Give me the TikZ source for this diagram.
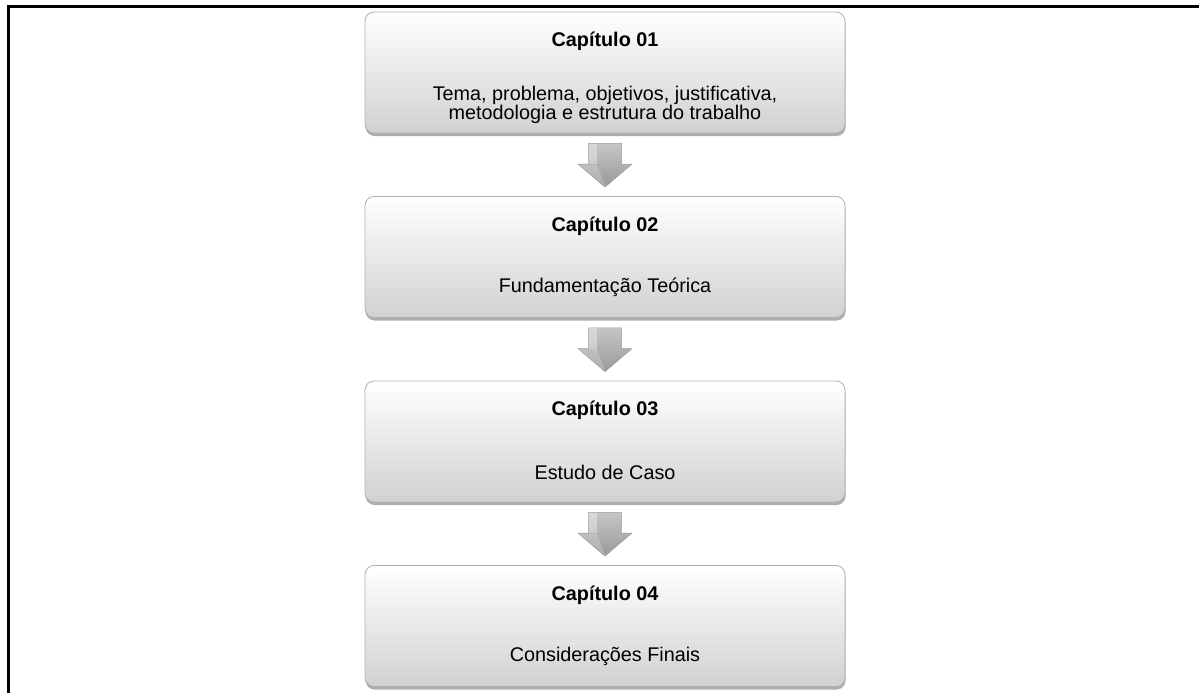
\documentclass[tikz,border=0pt]{standalone}
\usepackage{fontspec}
\setmainfont{Liberation Sans}
\usetikzlibrary{calc,shadows}

\begin{document}
\begin{tikzpicture}[x=1pt,y=-1pt,
  chapbox/.style={rounded corners=9pt, minimum width=480pt, minimum height=121pt,
    inner sep=0pt, top color=white, bottom color=gray!36, draw=gray!62, line width=0.8pt,
    drop shadow={shadow xshift=0.6pt, shadow yshift=-3pt, opacity=0.45, fill=black!70}},
  chaptitle/.style={font=\fontsize{19.8}{19}\selectfont\bfseries, inner sep=0pt},
  chaptext/.style={font=\fontsize{19.8}{19}\selectfont, align=center, inner sep=0pt},
  frameline/.style={line width=3pt, black, line join=miter},
  downarrow/.style={top color=gray!45, bottom color=gray!80, draw=gray!75, line width=0.5pt, line join=round},
  arrowshine/.style={fill=white, opacity=0.35}
]
\useasboundingbox (0,0) rectangle (1199,693);

% page frame: top and left rules
\draw[frameline] (8,693) -- (8,7) -- (1199,7);

% chapter boxes
\node[chapbox] (b1) at (605,72.5) {};
\node[chapbox] (b2) at (605,257) {};
\node[chapbox] (b3) at (605,441.5) {};
\node[chapbox] (b4) at (605,626) {};

% titles and descriptions
\node[chaptitle] (t1) at ($(b1.north)+(0,30)$) {Capítulo 01};
\node[chaptext]  (d1) at ($(b1.north)+(0,93.5)$) {Tema, problema, objetivos, justificativa,\\metodologia e estrutura do trabalho};
\node[chaptitle] (t2) at ($(b2.north)+(0,30)$) {Capítulo 02};
\node[chaptext]  (d2) at ($(b2.north)+(0,91.5)$) {Fundamentação Teórica};
\node[chaptitle] (t3) at ($(b3.north)+(0,30)$) {Capítulo 03};
\node[chaptext]  (d3) at ($(b3.north)+(0,91.5)$) {Estudo de Caso};
\node[chaptitle] (t4) at ($(b4.north)+(0,30)$) {Capítulo 04};
\node[chaptext]  (d4) at ($(b4.north)+(0,91.5)$) {Considerações Finais};

% block arrows between consecutive boxes
\foreach \from/\to in {b1/b2, b2/b3, b3/b4} {
  \coordinate (s) at ($(\from.south)+(0,10)$);
  \coordinate (t) at ($(\to.north)+(0,-9)$);
  \draw[downarrow] ($(s)+(-16.5,0)$) -- ($(s)+(16.5,0)$) -- ($(t)+(16.5,-23)$)
    -- ($(t)+(27,-23)$) -- (t) -- ($(t)+(-27,-23)$) -- ($(t)+(-16.5,-23)$) -- cycle;
  \fill[arrowshine] ($(s)+(-16,0.5)$) rectangle ($(t)+(-8,-23)$);
  \fill[arrowshine, opacity=0.2] ($(t)+(-26,-22.5)$) -- ($(t)+(-8,-22.5)$) -- ($(t)+(0,-1)$) -- cycle;
}
\end{tikzpicture}
\end{document}
